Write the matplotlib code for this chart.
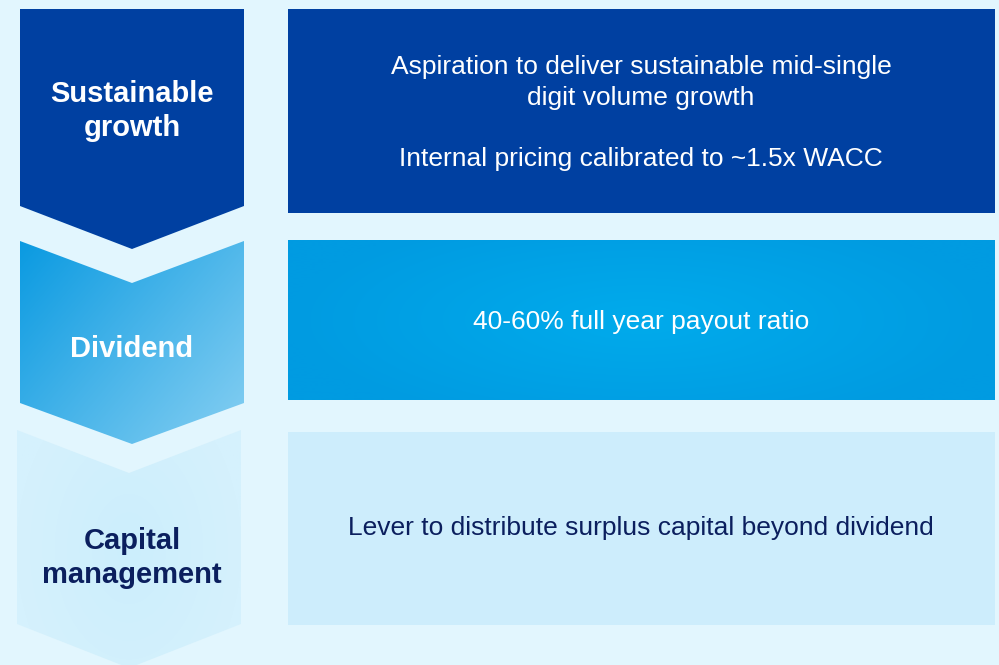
import numpy as np
import matplotlib
matplotlib.use("Agg")
import matplotlib.pyplot as plt
from matplotlib.patches import Polygon, Rectangle
from matplotlib.colors import to_rgb

plt.rcParams['font.family'] = ['Liberation Sans', 'DejaVu Sans']

# content
pillars = ["Sustainable\ngrowth", "Dividend", "Capital\nmanagement"]
descriptions = [
    "Aspiration to deliver sustainable mid-single\ndigit volume growth\n\nInternal pricing calibrated to ~1.5x WACC",
    "40-60% full year payout ratio",
    "Lever to distribute surplus capital beyond dividend",
]
label_colors = ["white", "white", "#0B1F5E"]

W, H = 999, 665
bg = "#E2F6FE"

fig = plt.figure(figsize=(W / 100, H / 100), dpi=100)
fig.patch.set_facecolor(bg)
ax = fig.add_axes([0, 0, 1, 1])
ax.set_xlim(0, W)
ax.set_ylim(H, 0)
ax.axis("off")


def gradient_fill(poly, c0, c1, mode="linear"):
    # paint a gradient image clipped to the polygon
    xs, ys = poly[:, 0], poly[:, 1]
    x0, x1, y0, y1 = xs.min(), xs.max(), ys.min(), ys.max()
    nx, ny = int(x1 - x0) + 1, int(y1 - y0) + 1
    gx, gy = np.meshgrid(np.linspace(0, 1, nx), np.linspace(0, 1, ny))
    if mode == "linear":
        t = np.clip((gx * 0.8 + gy * 0.6) / 1.4, 0, 1)
    else:
        t = np.clip(np.sqrt(((gx - 0.5) / 0.5) ** 2 + ((gy - 0.5) / 0.7) ** 2), 0, 1)
    a, b = np.array(to_rgb(c0)), np.array(to_rgb(c1))
    img = a + (b - a) * t[..., None]
    im = ax.imshow(img, extent=(x0, x1, y1, y0), origin="upper",
                   interpolation="bilinear", zorder=2)
    patch = Polygon(poly, closed=True, facecolor="none", edgecolor="none")
    ax.add_patch(patch)
    im.set_clip_path(patch)


# chevrons (left column)
chev1 = np.array([[20, 9], [244, 9], [244, 206], [132, 249], [20, 206]])
chev2 = np.array([[20, 241], [132, 283], [244, 241], [244, 403], [132, 444], [20, 403]])
chev3 = np.array([[17, 430], [129, 473], [241, 430], [241, 624], [129, 668], [17, 624]])

ax.add_patch(Polygon(chev1, closed=True, facecolor="#0040A1", edgecolor="none", zorder=2))
gradient_fill(chev2, "#0A9AE1", "#86CFF2", "linear")
gradient_fill(chev3, "#CCEEFC", "#D5F1FD", "radial")

# boxes (right column)
ax.add_patch(Rectangle((288, 9), 707, 204, facecolor="#0040A1", edgecolor="none", zorder=2))
box2 = np.array([[288, 240], [995, 240], [995, 400], [288, 400]])
gradient_fill(box2, "#00ABEC", "#009BE1", "radial")
ax.add_patch(Rectangle((288, 432), 707, 193, facecolor="#CDEDFC", edgecolor="none", zorder=2))

label_y = [111, 349, 558]
desc_y = [113, 322, 528]
for i in range(3):
    ax.text(132, label_y[i], pillars[i], ha="center", va="center",
            fontsize=21, fontweight="bold", color=label_colors[i],
            linespacing=1.31, zorder=3)
    ax.text(641, desc_y[i], descriptions[i], ha="center", va="center",
            fontsize=19, color=label_colors[i], linespacing=1.35, zorder=3)

fig.savefig("out.png", dpi=100, facecolor=bg)
